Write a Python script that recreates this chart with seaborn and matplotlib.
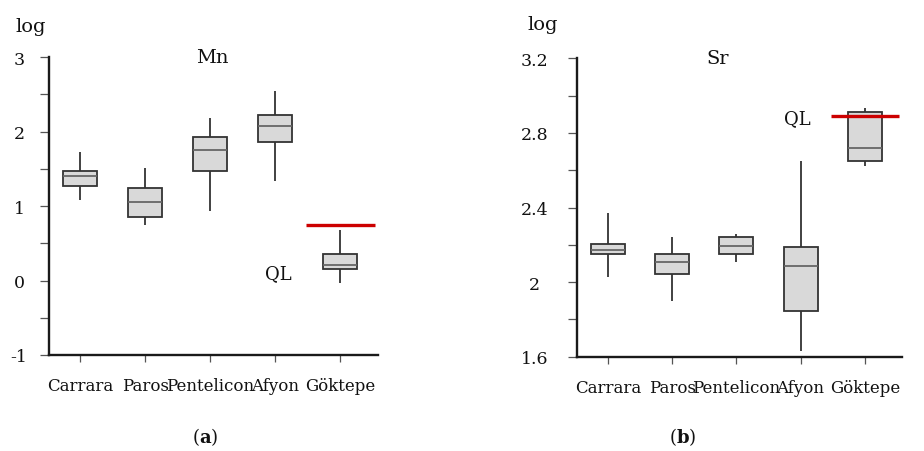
import seaborn as sns
import matplotlib.pyplot as plt
import pandas as pd
import numpy as np

# Five-number summaries (log scale)
categories = ["Carrara", "Paros", "Pentelicon", "Afyon", "Göktepe"]

mn_min = [1.08, 0.75, 0.94, 1.34, -0.03]
mn_q1 = [1.27, 0.85, 1.47, 1.86, 0.16]
mn_med = [1.40, 1.05, 1.75, 2.07, 0.21]
mn_q3 = [1.47, 1.24, 1.93, 2.22, 0.35]
mn_max = [1.73, 1.51, 2.18, 2.55, 0.68]
mn_ql = 0.74

sr_min = [2.03, 1.90, 2.11, 1.63, 2.625]
sr_q1 = [2.15, 2.046, 2.15, 1.847, 2.652]
sr_med = [2.175, 2.11, 2.196, 2.088, 2.72]
sr_q3 = [2.205, 2.15, 2.244, 2.19, 2.915]
sr_max = [2.37, 2.24, 2.256, 2.649, 2.936]
sr_ql = 2.89


def to_long(mins, q1s, meds, q3s, maxs):
    # five points per site -> quartiles land exactly on q1/median/q3
    rows = []
    for i, cat in enumerate(categories):
        for v in (mins[i], q1s[i], meds[i], q3s[i], maxs[i]):
            rows.append({"site": cat, "value": v})
    return pd.DataFrame(rows)


df_mn = to_long(mn_min, mn_q1, mn_med, mn_q3, mn_max)
df_sr = to_long(sr_min, sr_q1, sr_med, sr_q3, sr_max)

sns.set_style("ticks")
plt.rcParams['font.family'] = ['DejaVu Serif']
plt.rcParams['mathtext.fontset'] = 'dejavuserif'
plt.rcParams['text.color'] = '#111111'
plt.rcParams['xtick.labelcolor'] = '#111111'
plt.rcParams['ytick.labelcolor'] = '#111111'

fig = plt.figure(figsize=(9.24, 4.52), dpi=100)
ax1 = fig.add_axes([0.053, 0.2124, 0.356, 0.659])
ax2 = fig.add_axes([0.6245, 0.2086, 0.3517, 0.660])


def draw_panel(ax, df, ylim, major, major_labels, minor, title, title_x,
               ql, ql_text_xy, ylabel_pad):
    sns.boxplot(x="site", y="value", data=df, order=categories, ax=ax,
                color="#d9d9d9", saturation=1, width=0.53, linewidth=1.3,
                linecolor="#333333", whis=(0, 100), showcaps=False, fliersize=0,
                medianprops={"color": "#666666", "linewidth": 1.3})
    ax.set_xlim(-0.48, 4.58)
    ax.set_ylim(*ylim)
    ax.set_yticks(major)
    ax.set_yticklabels(major_labels)
    ax.set_yticks(minor, minor=True)
    ax.set_xlabel("")
    ax.set_ylabel("")
    sns.despine(ax=ax)
    for s in ("left", "bottom"):
        ax.spines[s].set_linewidth(1.7)
        ax.spines[s].set_color("#1a1a1a")
    ax.tick_params(axis="y", which="both", length=6.5, width=0.9,
                   color="#555555", labelsize=12.5, pad=ylabel_pad)
    for lab in ax.get_yticklabels():
        lab.set_horizontalalignment("center")
    ax.tick_params(axis="x", length=5, width=0.9, color="#555555",
                   labelsize=12, pad=11)
    # quantification limit
    ax.hlines(ql, 4 - 0.53, 4 + 0.53, color="#cc0000", linewidth=2.4, zorder=5)
    ax.text(ql_text_xy[0], ql_text_xy[1], "QL", fontsize=13,
            ha="center", va="center")
    ax.text(title_x, 1.0, title, transform=ax.transAxes, fontsize=14,
            ha="center", va="center")


draw_panel(ax1, df_mn, (-1, 3), [-1, 0, 1, 2, 3], ["-1", "0", "1", "2", "3"],
           [-0.5, 0.5, 1.5, 2.5], "Mn", 0.495, mn_ql, (3.05, 0.1), 15)
draw_panel(ax2, df_sr, (1.6, 3.2), [1.6, 2.0, 2.4, 2.8, 3.2],
           ["1.6", "2", "2.4", "2.8", "3.2"], [1.8, 2.2, 2.6, 3.0],
           "Sr", 0.434, sr_ql, (2.95, 2.88), 24)

fig.text(31 / 924, 1 - 27 / 452, "log", fontsize=14, ha="center", va="center")
fig.text(543 / 924, 1 - 25 / 452, "log", fontsize=14, ha="center", va="center")
fig.text(205 / 924, 1 - 437 / 452, r"($\mathbf{a}$)", fontsize=13,
         ha="center", va="center")
fig.text(683 / 924, 1 - 437 / 452, r"($\mathbf{b}$)", fontsize=13,
         ha="center", va="center")

fig.savefig("out.png", dpi=100)
